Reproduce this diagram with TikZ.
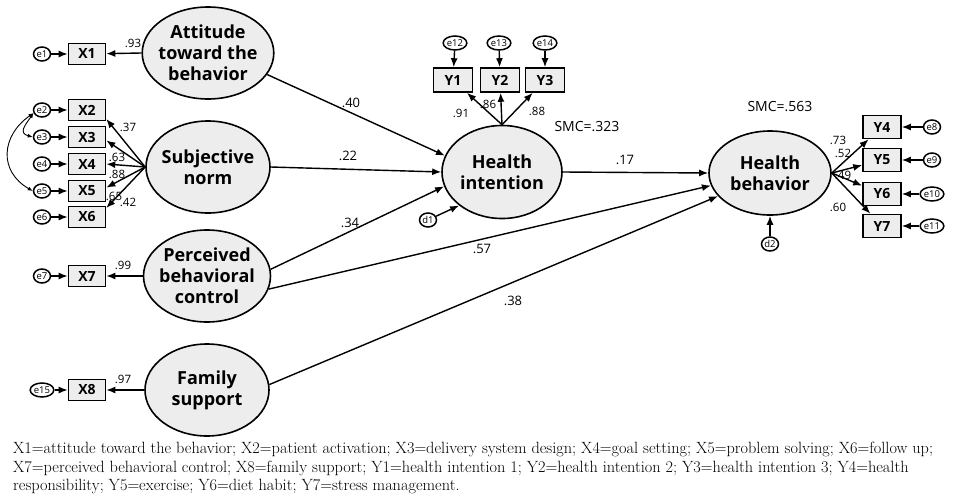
\documentclass[tikz,border=0pt]{standalone}
\usepackage{fontspec}
\setsansfont{Open Sans}
\usetikzlibrary{arrows.meta,shapes.geometric}

\begin{document}
\begin{tikzpicture}[x=1pt, y=-1pt,
    latent/.style={ellipse, draw, line width=1.6pt, fill=black!7, inner sep=0pt, inner xsep=-3pt, align=center,
        font=\sffamily\bfseries\fontsize{18}{21}\selectfont, minimum width=124pt, minimum height=92pt},
    item/.style={rectangle, draw, line width=1.6pt, fill=black!7, minimum width=37pt, minimum height=21pt,
        inner sep=0pt, font=\sffamily\bfseries\fontsize{14}{14}\selectfont},
    err/.style={ellipse, draw, line width=1.5pt, fill=white, minimum width=17pt, minimum height=14pt,
        inner sep=0.3pt, font=\sffamily\fontsize{9.5}{9.5}\selectfont},
    coef/.style={inner sep=0pt, font=\sffamily\fontsize{13}{13}\selectfont},
    lcoef/.style={inner sep=0pt, font=\sffamily\fontsize{11.5}{11.5}\selectfont},
    link/.style={-{Latex[length=9pt,width=7pt]}, line width=1.4pt},
    cov/.style={{Latex[length=5pt,width=4pt]}-{Latex[length=5pt,width=4pt]}, line width=0.9pt},
    notes/.style={align=left, inner sep=0pt, font=\rmfamily\fontsize{16.3}{18.5}\selectfont}
  ]
  \useasboundingbox (0,0) rectangle (954,501);

  % latent variables
  \node[latent] (at) at (208,53) {Attitude\\toward the\\behavior};
  \node[latent] (sn) at (208,167) {Subjective\\norm};
  \node[latent] (pbc) at (207,276) {Perceived\\behavioral\\control};
  \node[latent] (fs) at (207,390) {Family\\support};
  \node[latent, minimum width=120pt, minimum height=93pt] (hi) at (502,172) {Health\\intention};
  \node[latent, minimum width=122pt, minimum height=84pt] (hb) at (770,173) {Health\\behavior};

  % X indicators
  \node[item] (x1) at (87,54) {X1};
  \node[item] (x2) at (87,110) {X2};
  \node[item] (x3) at (87,137) {X3};
  \node[item] (x4) at (87,164) {X4};
  \node[item] (x5) at (87,191) {X5};
  \node[item] (x6) at (87,217) {X6};
  \node[item] (x7) at (87,276) {X7};
  \node[item] (x8) at (87,390) {X8};
  \foreach \n/\y in {1/54,2/110,3/137,4/164,5/191,6/217,7/276,15/390}
    \node[err] (e\n) at (42,\y) {e\n};
  \foreach \n in {1,...,7}
    \draw[link] (e\n) -- (x\n);
  \draw[link] (e15) -- (x8);

  % Y indicators
  \node[item, minimum width=39pt, minimum height=24pt] (y1) at (453,80) {Y1};
  \node[item, minimum width=39pt, minimum height=24pt] (y2) at (500,80) {Y2};
  \node[item, minimum width=39pt, minimum height=24pt] (y3) at (545,80) {Y3};
  \node[item, minimum width=38pt, minimum height=23pt] (y4) at (882,127) {Y4};
  \node[item, minimum width=38pt, minimum height=23pt] (y5) at (882,160) {Y5};
  \node[item, minimum width=38pt, minimum height=23pt] (y6) at (882,194) {Y6};
  \node[item, minimum width=38pt, minimum height=23pt] (y7) at (882,226) {Y7};
  \node[err] (e12) at (455,43) {e12};
  \node[err] (e13) at (499,43) {e13};
  \node[err] (e14) at (545,43) {e14};
  \node[err] (e8) at (932,127) {e8};
  \node[err] (e9) at (932,160) {e9};
  \node[err] (e10) at (932,194) {e10};
  \node[err] (e11) at (932,226) {e11};
  \node[err] (d1) at (428,220) {d1};
  \node[err] (d2) at (770,244) {d2};
  \draw[link] (e12) -- (y1);
  \draw[link] (e13) -- (y2);
  \draw[link] (e14) -- (y3);
  \draw[link] (e8) -- (y4);
  \draw[link] (e9) -- (y5);
  \draw[link] (e10) -- (y6);
  \draw[link] (e11) -- (y7);
  \draw[link] (d1) -- (hi.-142);
  \draw[link] (d2) -- (hb.south);

  % correlated errors
  \draw[cov] (e2.200) to[out=215, in=150, looseness=1.3] (e5.west);
  \draw[cov] (e2.200) to[out=235, in=165, looseness=1.6] (e3.west);

  % loadings
  \draw[link] (at.west) -- (x1);
  \draw[link] (sn.west) -- (x2.-25);
  \draw[link] (sn.west) -- (x3.-10);
  \draw[link] (sn.west) -- (x4.east);
  \draw[link] (sn.west) -- (x5.10);
  \draw[link] (sn.west) -- (x6.25);
  \draw[link] (pbc.west) -- (x7);
  \draw[link] (fs.west) -- (x8);
  \draw[link] (hi.north) -- (y1);
  \draw[link] (hi.north) -- (y2);
  \draw[link] (hi.north) -- (y3);
  \draw[link] (hb.east) -- (y4);
  \draw[link] (hb.east) -- (y5);
  \draw[link] (hb.east) -- (y6);
  \draw[link] (hb.east) -- (y7);

  % structural paths
  \draw[link] (at.-20) -- (hi.164);
  \draw[link] (sn.east) -- (hi.west);
  \draw[link] (pbc.6) -- (hi.-166);
  \draw[link] (pbc.-12) -- (hb.-168);
  \draw[link] (fs.5) -- (hb.-156);
  \draw[link] (hi.east) -- (hb.west);

  % estimates
  \node[lcoef] (c93) at (133,43) {.93};
  \node[lcoef] (c37) at (128,127) {.37};
  \node[lcoef] (c63) at (117,157) {.63};
  \node[lcoef] (c88a) at (117,174) {.88};
  \node[lcoef] (c65) at (114,196) {.65};
  \node[lcoef] (c42) at (128,202) {.42};
  \node[lcoef] (c99) at (123,265) {.99};
  \node[lcoef] (c97) at (123,379) {.97};
  \node[coef] (c40) at (351,103) {.40};
  \node[coef] (c22) at (348,156) {.22};
  \node[coef] (c34) at (350,223) {.34};
  \node[coef] (c57) at (482,249) {.57};
  \node[coef] (c38) at (513,301) {.38};
  \node[coef] (c17) at (625,160) {.17};
  \node[lcoef] (c91) at (461,113) {.91};
  \node[lcoef] (c86) at (488,104) {.86};
  \node[lcoef] (c88b) at (537,111) {.88};
  \node[lcoef] (c73) at (838,140) {.73};
  \node[lcoef] (c52) at (843,153) {.52};
  \node[lcoef] (c49) at (843,175) {.49};
  \node[lcoef] (c60) at (838,207) {.60};
  \node[coef, font=\sffamily\fontsize{14}{14}\selectfont] (smc1) at (587,127) {SMC=.323};
  \node[coef, font=\sffamily\fontsize{14}{14}\selectfont] (smc2) at (780,107) {SMC=.563};

  % note
  \node[notes, anchor=north west] (note) at (13,442) {X1=attitude toward the behavior; X2=patient activation; X3=delivery system design; X4=goal setting; X5=problem solving; X6=follow up;\\
    X7=perceived behavioral control; X8=family support; Y1=health intention 1; Y2=health intention 2; Y3=health intention 3; Y4=health\\
    responsibility; Y5=exercise; Y6=diet habit; Y7=stress management.};
\end{tikzpicture}
\end{document}
